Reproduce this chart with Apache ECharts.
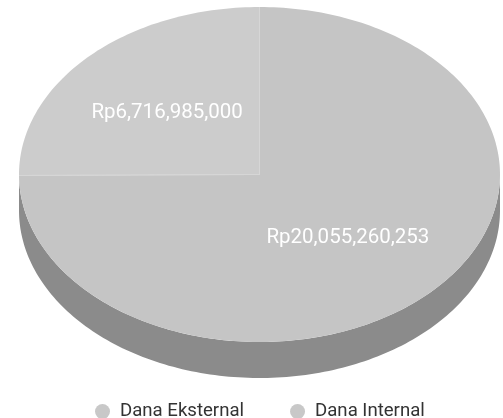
<!DOCTYPE html>
<html>
<head>
<meta charset="utf-8">
<script src="https://cdn.jsdelivr.net/npm/echarts@6/dist/echarts.min.js"></script>
<style>
  html, body { margin: 0; padding: 0; background: #fff; }
  #chart { width: 503px; height: 418px; }
</style>
</head>
<body>
<div id="chart"></div>
<script>
let categories = ['Dana Eksternal', 'Dana Internal'];
let values = [6716985000, 20055260253];
let colors = ['#cccccc', '#c5c5c5'];
let sideColor = '#8b8b8b';

// pie geometry (ellipse seen from above, with thickness)
let cx = 259.5, cy = 174.5, rx = 240.5, ry = 167.5, depth = 36;
let total = values.reduce(function (a, b) { return a + b; }, 0);

// angle measured counter-clockwise from 12 o'clock
function pt(t, dy) {
  return [cx - rx * Math.sin(t), cy - ry * Math.cos(t) + (dy || 0)];
}

function arc(a, b, dy) {
  let pts = [];
  let n = Math.max(2, Math.ceil((b - a) / 0.02));
  for (let k = 0; k <= n; k++) {
    pts.push(pt(a + (b - a) * k / n, dy));
  }
  return pts;
}

function sliceRange(i) {
  let before = 0;
  for (let k = 0; k < i; k++) before += values[k];
  return [before / total * Math.PI * 2, (before + values[i]) / total * Math.PI * 2];
}

function renderSlice(i) {
  return function (params, api) {
    let r = sliceRange(i);
    let a = r[0], b = r[1];
    let children = [];

    // visible side (front half only)
    let sa = Math.max(a, Math.PI / 2), sb = Math.min(b, Math.PI * 1.5);
    if (sb > sa) {
      let top = arc(sa, sb, 0);
      let bottom = arc(sa, sb, depth).reverse();
      children.push({
        type: 'polygon',
        shape: { points: top.concat(bottom) },
        style: { fill: sideColor },
        z2: 1
      });
    }

    // top face
    children.push({
      type: 'polygon',
      shape: { points: [[cx, cy]].concat(arc(a, b, 0)) },
      style: { fill: colors[i] },
      z2: 2
    });

    // radial edges
    children.push({
      type: 'polyline',
      shape: { points: [pt(a), [cx, cy], pt(b)] },
      style: { stroke: '#d6d6d6', lineWidth: 1, fill: null },
      z2: 3
    });

    // value label
    let mid = (a + b) / 2;
    let f = 0.53;
    children.push({
      type: 'text',
      x: cx - rx * f * Math.sin(mid) - 2,
      y: cy - ry * f * Math.cos(mid) + 1,
      style: {
        text: 'Rp' + values[i].toLocaleString('en-US'),
        fill: '#ffffff',
        fontSize: 20.5,
        fontFamily: 'Roboto',
        align: 'center',
        verticalAlign: 'middle'
      },
      z2: 4
    });

    return { type: 'group', children: children };
  };
}

let chart = echarts.init(document.getElementById('chart'));
let option = {
  animation: false,
  legend: {
    data: categories.map(function (n) {
      return { name: n, itemStyle: { color: '#c8c8c8' } };
    }),
    icon: 'circle',
    itemWidth: 25,
    itemHeight: 15,
    itemGap: 46,
    left: 90,
    top: 397,
    textStyle: { fontSize: 18.6, color: '#333333', fontFamily: 'Roboto' }
  },
  series: categories.map(function (name, i) {
    return {
      type: 'custom',
      name: name,
      coordinateSystem: 'none',
      silent: true,
      itemStyle: { color: colors[i] },
      data: [[values[i], i]],
      renderItem: renderSlice(i)
    };
  })
};
chart.setOption(option);
</script>
</body>
</html>
